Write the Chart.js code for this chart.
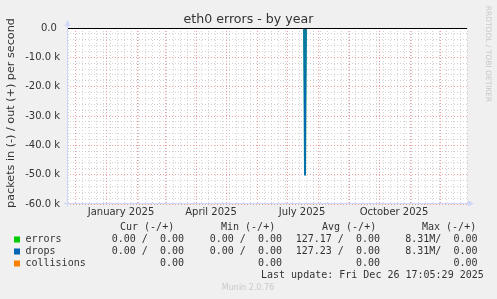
<!DOCTYPE html>
<html>
<head>
<meta charset="utf-8">
<script src="https://cdn.jsdelivr.net/npm/chart.js@4/dist/chart.umd.min.js"></script>
<style>
  html, body { margin: 0; padding: 0; background: #f0f0f0; }
  canvas { display: block; }
</style>
</head>
<body>
<canvas id="chart" width="497" height="299"></canvas>
<script>
// --- data ---
const rangeStart = '2024-11-23T00:00:00Z';
const rangeEnd = '2025-12-28T00:00:00Z';

const sampleDates = ['2024-11-23T00:00:00Z', '2025-07-18T00:00:00Z', '2025-07-19T00:00:00Z', '2025-07-20T00:00:00Z', '2025-12-28T00:00:00Z'];
const errorsIn = [0, 0, -50200, 0, 0];
const errorsOut = [0, 0, 0, 0, 0];
const dropsIn = [0, 0, -50250, 0, 0];
const dropsOut = [0, 0, 0, 0, 0];

const yTickValues = [0, -10000, -20000, -30000, -40000, -50000, -60000];
const yTickLabels = ['0.0 ', '-10.0 k', '-20.0 k', '-30.0 k', '-40.0 k', '-50.0 k', '-60.0 k'];

const xLabelDates = ['2025-01-16T00:00:00Z', '2025-04-16T00:00:00Z', '2025-07-16T00:00:00Z', '2025-10-16T00:00:00Z'];
const xLabels = ['January 2025', 'April 2025', 'July 2025', 'October 2025'];

const legendNames = ['errors', 'drops', 'collisions'];
const legendColors = ['#00cc00', '#0066b3', '#ff8000'];
const curCol = ['0.00 /  0.00', '0.00 /  0.00', '0.00'];
const minCol = ['0.00 /  0.00', '0.00 /  0.00', '0.00'];
const avgCol = ['127.17 /  0.00', '127.23 /  0.00', '0.00'];
const maxCol = ['8.31M/  0.00', '8.31M/  0.00', '0.00'];

const DAY = 864e5;
const xMin = Date.parse(rangeStart);
const xMax = Date.parse(rangeEnd);
const pts = vals => vals.map((v, i) => ({ x: Date.parse(sampleDates[i]), y: v }));

// month starts = red lines, sundays = grey lines
const monthTicks = [];
const weekTicks = [];
for (let t = xMin; t <= xMax; t += DAY) {
  const d = new Date(t);
  if (d.getUTCDate() === 1) monthTicks.push(t);
  else if (d.getUTCDay() === 0) weekTicks.push(t);
}
const labelTicks = xLabelDates.map(d => Date.parse(d));

const MINOR = 'rgba(200,200,200,0.8)';
const MAJOR = 'rgba(232,150,150,0.9)';
const FONT = '#333';

const decor = {
  id: 'decor',
  beforeDraw(chart) {
    const { ctx, chartArea: a } = chart;
    ctx.save();
    ctx.fillStyle = '#f0f0f0';
    ctx.fillRect(0, 0, chart.width, chart.height);
    ctx.fillStyle = '#fff';
    ctx.fillRect(a.left, a.top, a.right - a.left, a.bottom - a.top);
    ctx.restore();
  },
  afterDatasetsDraw(chart) {
    const { ctx, chartArea: a, scales: { y } } = chart;
    const y0 = Math.round(y.getPixelForValue(0)) + 0.5;
    ctx.save();
    ctx.strokeStyle = '#000';
    ctx.lineWidth = 1;
    ctx.beginPath();
    ctx.moveTo(a.left, y0);
    ctx.lineTo(a.right, y0);
    ctx.stroke();
    ctx.restore();
  },
  afterDraw(chart) {
    const { ctx, chartArea: a } = chart;
    ctx.save();
    // axes + arrows
    ctx.strokeStyle = '#cfd6f8';
    ctx.fillStyle = '#cfd6f8';
    ctx.lineWidth = 1;
    ctx.beginPath();
    ctx.moveTo(a.left + 0.5, a.bottom + 3);
    ctx.lineTo(a.left + 0.5, a.top - 3);
    ctx.moveTo(a.left - 3, a.bottom - 0.5);
    ctx.lineTo(a.right + 3, a.bottom - 0.5);
    ctx.stroke();
    ctx.beginPath();
    ctx.moveTo(a.left - 2.5, a.top - 2);
    ctx.lineTo(a.left + 3.5, a.top - 2);
    ctx.lineTo(a.left + 0.5, a.top - 8);
    ctx.closePath();
    ctx.fill();
    ctx.beginPath();
    ctx.moveTo(a.right + 1, a.bottom - 3.5);
    ctx.lineTo(a.right + 1, a.bottom + 2.5);
    ctx.lineTo(a.right + 7, a.bottom - 0.5);
    ctx.closePath();
    ctx.fill();

    // title
    ctx.fillStyle = FONT;
    ctx.textAlign = 'center';
    ctx.textBaseline = 'middle';
    ctx.font = '12.6px "DejaVu Sans"';
    ctx.fillText('eth0 errors - by year', 248.5, 19.5);

    // y title
    ctx.save();
    ctx.translate(11.5, 113);
    ctx.rotate(-Math.PI / 2);
    ctx.font = '11.2px "DejaVu Sans"';
    ctx.fillText('packets in (-) / out (+) per second', 0, 0);
    ctx.restore();

    // watermark
    ctx.save();
    ctx.translate(488, 54);
    ctx.rotate(Math.PI / 2);
    ctx.fillStyle = '#c8c8c8';
    ctx.font = '7.5px "DejaVu Sans"';
    ctx.fillText('RRDTOOL / TOBI OETIKER', 0, 0);
    ctx.restore();

    ctx.fillStyle = '#c8c8c8';
    ctx.font = '8px "DejaVu Sans"';
    ctx.fillText('Munin 2.0.76', 248, 288);

    // legend table
    ctx.fillStyle = FONT;
    ctx.font = '10px "DejaVu Sans Mono"';
    ctx.textAlign = 'left';
    ctx.fillText('Cur (-/+)', 120, 227.5);
    ctx.fillText('Min (-/+)', 221, 227.5);
    ctx.fillText('Avg (-/+)', 322, 227.5);
    ctx.fillText('Max (-/+)', 422, 227.5);
    legendNames.forEach((name, i) => {
      const ty = 239.5 + i * 12;
      ctx.fillStyle = legendColors[i];
      ctx.fillRect(14, ty - 3, 6, 6);
      ctx.fillStyle = FONT;
      ctx.textAlign = 'left';
      ctx.fillText(name, 25.5, ty);
      ctx.textAlign = 'right';
      ctx.fillText(curCol[i], 184, ty);
      ctx.fillText(minCol[i], 282, ty);
      ctx.fillText(avgCol[i], 380, ty);
      ctx.fillText(maxCol[i], 477.5, ty);
    });
    ctx.textAlign = 'left';
    ctx.fillText('Last update: Fri Dec 26 17:05:29 2025', 261, 275.5);
    ctx.restore();
  }
};

const line = (data, color, width) => ({
  data, borderColor: color, borderWidth: width, pointRadius: 0, tension: 0, fill: false
});

// first dataset is painted last, so drops sit on top of errors
new Chart(document.getElementById('chart'), {
  type: 'line',
  data: {
    datasets: [
      line(pts(dropsIn), '#0066b3', 1),
      line(pts(dropsOut), '#0066b3', 1),
      line(pts(errorsIn), '#1a9a8a', 2),
      line(pts(errorsOut), '#00cc00', 1)
    ]
  },
  options: {
    responsive: false,
    animation: false,
    layout: { padding: { top: 28, right: 30, left: 0, bottom: 0 } },
    plugins: { legend: { display: false }, tooltip: { enabled: false }, title: { display: false } },
    scales: {
      x: {
        type: 'linear',
        min: xMin,
        max: xMax,
        afterFit: s => { s.height = 95; },
        afterBuildTicks: s => {
          s.ticks = [...weekTicks, ...monthTicks, ...labelTicks].sort((p, q) => p - q).map(v => ({ value: v }));
        },
        ticks: {
          autoSkip: false,
          maxRotation: 0,
          padding: 2,
          color: FONT,
          font: { family: 'DejaVu Sans', size: 10 },
          callback: v => {
            const i = labelTicks.indexOf(v);
            return i >= 0 ? xLabels[i] : '';
          }
        },
        grid: {
          drawTicks: false,
          color: c => labelTicks.includes(c.tick.value) ? 'rgba(0,0,0,0)' : (monthTicks.includes(c.tick.value) ? MAJOR : MINOR)
        },
        border: { display: false, dash: [1, 2] }
      },
      y: {
        min: -60000,
        max: 0,
        afterFit: s => { s.width = 67; },
        afterBuildTicks: s => {
          const t = [];
          for (let v = -60000; v <= 0; v += 2000) t.push({ value: v });
          s.ticks = t;
        },
        ticks: {
          autoSkip: false,
          padding: 7,
          color: FONT,
          font: { family: 'DejaVu Sans', size: 10 },
          callback: v => {
            const i = yTickValues.indexOf(v);
            return i >= 0 ? yTickLabels[i] : '';
          }
        },
        grid: {
          drawTicks: false,
          color: c => yTickValues.includes(c.tick.value) ? MAJOR : MINOR
        },
        border: { display: false, dash: [1, 2] }
      }
    }
  },
  plugins: [decor]
});
</script>
</body>
</html>
